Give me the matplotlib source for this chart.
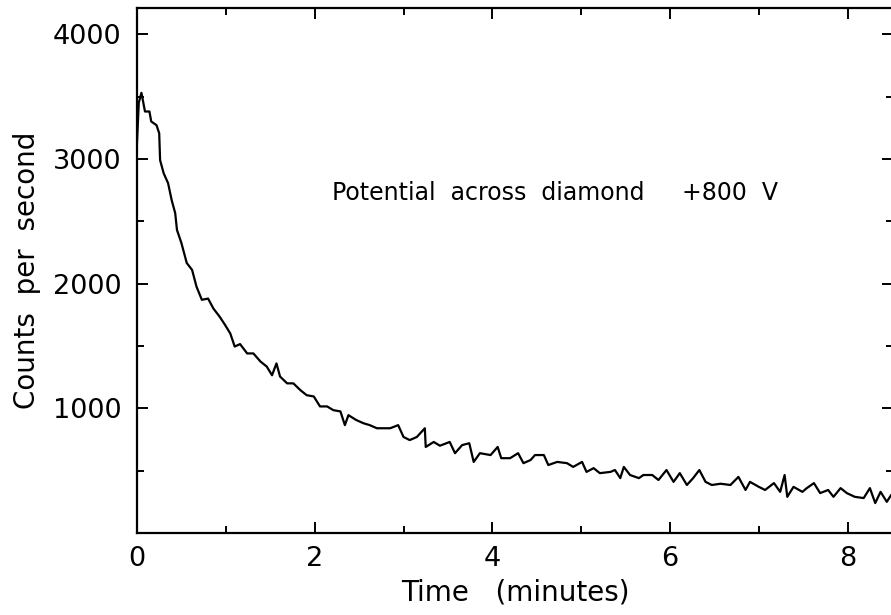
import matplotlib
matplotlib.use("Agg")
import matplotlib.pyplot as plt
from matplotlib.ticker import MultipleLocator

# values (minutes, counts per second)
time_min = [
    0.00, 0.02, 0.05, 0.09, 0.14, 0.16, 0.22, 0.25, 0.26, 0.30,
    0.35, 0.39, 0.43, 0.45, 0.50, 0.56, 0.62, 0.67, 0.73, 0.80,
    0.86, 0.93, 0.99, 1.05, 1.10, 1.16, 1.24, 1.31, 1.39, 1.46,
    1.52, 1.57, 1.61, 1.69, 1.76, 1.84, 1.91, 1.99, 2.06, 2.14,
    2.21, 2.29, 2.34, 2.38, 2.47, 2.55, 2.62, 2.70, 2.77, 2.85,
    2.94, 3.00, 3.07, 3.15, 3.24, 3.25, 3.34, 3.41, 3.52, 3.58,
    3.66, 3.74, 3.79, 3.86, 3.98, 4.06, 4.10, 4.20, 4.29, 4.35,
    4.43, 4.48, 4.58, 4.63, 4.73, 4.84, 4.91, 5.01, 5.06, 5.14,
    5.21, 5.33, 5.38, 5.44, 5.48, 5.55, 5.65, 5.70, 5.80, 5.87,
    5.96, 6.04, 6.11, 6.19, 6.26, 6.33, 6.40, 6.47, 6.57, 6.68,
    6.77, 6.85, 6.90, 7.00, 7.07, 7.17, 7.24, 7.29, 7.32, 7.39,
    7.49, 7.54, 7.62, 7.69, 7.78, 7.84, 7.92, 7.99, 8.08, 8.18,
    8.25, 8.31, 8.37, 8.44, 8.49, 8.53,
]
counts = [
    3130, 3450, 3530, 3380, 3380, 3300, 3270, 3205, 2990, 2885,
    2805, 2670, 2565, 2430, 2325, 2165, 2110, 1975, 1870, 1880,
    1800, 1735, 1670, 1600, 1495, 1515, 1440, 1440, 1375, 1335,
    1265, 1360, 1255, 1200, 1200, 1145, 1105, 1095, 1015, 1015,
    985, 975, 865, 945, 905, 880, 865, 840, 840, 840,
    865, 770, 745, 770, 840, 690, 730, 700, 730, 640,
    705, 720, 570, 640, 625, 690, 600, 600, 640, 560,
    585, 625, 625, 545, 570, 560, 530, 570, 490, 520,
    480, 490, 505, 440, 530, 465, 440, 465, 465, 425,
    505, 410, 480, 385, 440, 505, 410, 385, 395, 385,
    450, 345, 410, 370, 345, 400, 330, 465, 290, 370,
    330, 360, 400, 320, 345, 290, 360, 320, 290, 280,
    360, 240, 330, 250, 305, 270,
]

x_ticks = [0, 2, 4, 6, 8]
y_ticks = [1000, 2000, 3000, 4000]
annotation = "Potential  across  diamond     +800  V"

plt.rcParams['font.family'] = ['DejaVu Sans']

fig = plt.figure(figsize=(8.91, 6.15), dpi=100)
ax = fig.add_axes([137 / 891, 82 / 615, 756 / 891, 525 / 615])

ax.plot(time_min, counts, color='black', lw=1.6)

ax.set_xlim(0, 8.51)
ax.set_ylim(0, 4210)
ax.set_xticks(x_ticks)
ax.set_yticks(y_ticks)
ax.xaxis.set_minor_locator(MultipleLocator(1))
ax.yaxis.set_minor_locator(MultipleLocator(500))

ax.tick_params(which='both', direction='in', top=True, right=True,
               width=1.4, labelsize=19.5, colors='black')
ax.tick_params(which='major', length=8)
ax.tick_params(which='minor', length=5)
ax.tick_params(axis='y', pad=11)
ax.tick_params(axis='x', pad=9)
for s in ax.spines.values():
    s.set_linewidth(1.6)

ax.set_xlabel("Time   (minutes)", fontsize=20, labelpad=5)
ax.set_ylabel("Counts  per  second", fontsize=20, labelpad=9)

ax.text(2.20, 2725, annotation, fontsize=17, ha='left', va='center')

fig.savefig("out.png", dpi=100)
